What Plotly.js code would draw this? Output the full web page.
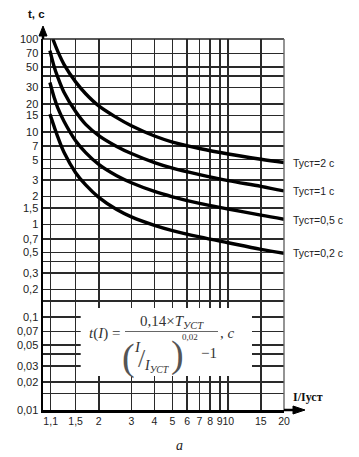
<!DOCTYPE html>
<html>
<head>
<meta charset="utf-8">
<script src="https://cdn.plot.ly/plotly-3.0.1.min.js"></script>
<style>
html,body{margin:0;padding:0;background:#fff;}
#chart{width:359px;height:457px;}
</style>
</head>
<body>
<div id="chart"></div>
<script>
// Curve data (I/Iуст, t in seconds)
const xT2  = [1.13, 1.2, 1.3, 1.5, 1.7, 2, 2.5, 3, 4, 5, 7, 10, 15, 20];
const yT2  = [100, 74, 53, 34.5, 25.7, 19, 14.2, 11.6, 9.0, 7.75, 6.6, 5.75, 5.05, 4.65];
const xT1  = [1.09, 1.15, 1.2, 1.3, 1.5, 1.7, 2, 2.5, 3, 4, 5, 7, 10, 15, 20];
const yT1  = [75, 50, 39, 26.5, 16.5, 12, 9.1, 6.95, 5.82, 4.65, 4.05, 3.45, 2.97, 2.58, 2.3];
const xT05 = [1.09, 1.15, 1.2, 1.3, 1.5, 1.7, 2, 2.5, 3, 4, 5, 7, 10, 15, 20];
const yT05 = [34, 23.3, 18.2, 12.9, 8.0, 5.96, 4.44, 3.35, 2.82, 2.27, 1.99, 1.69, 1.47, 1.26, 1.14];
const xT02 = [1.09, 1.15, 1.2, 1.3, 1.5, 1.7, 2, 2.5, 3, 4, 5, 7, 10, 15, 20];
const yT02 = [15.5, 11.3, 8.86, 5.97, 3.62, 2.67, 1.96, 1.45, 1.21, 0.98, 0.86, 0.735, 0.635, 0.54, 0.49];

const curveNames = ["Туст=2 с", "Туст=1 с", "Туст=0,5 с", "Туст=0,2 с"];

// Tick / grid positions and labels
const xTickVals = [1.1, 1.5, 2, 3, 4, 5, 6, 7, 8, 9, 10, 15, 20];
const xTickText = ["1,1", "1,5", "2", "3", "4", "5", "6", "7", "8", "9", "10", "15", "20"];
const yTickVals = [100, 70, 50, 40, 30, 20, 15, 10, 7, 5, 4, 3, 2, 1.5, 1, 0.7, 0.5, 0.4, 0.3, 0.2, 0.15, 0.1, 0.07, 0.05, 0.04, 0.03, 0.02, 0.015, 0.01];
const yTickText = ["100", "70", "50", "", "30", "20", "15", "10", "7", "5", "", "3", "2", "1,5", "1", "0,7", "0,5", "", "0,3", "0,2", "", "0,1", "0,07", "0,05", "", "0,03", "0,02", "", "0,01"];

// Plot area geometry (pixels)
const W = 359, H = 457, L = 43, R = 75, T = 39, B = 47;
const PW = W - L - R, PH = H - T - B;
const px = v => (v - L) / PW;           // pixel x -> paper x
const py = v => (H - B - v) / PH;       // pixel y -> paper y

const lineStyle = {color: '#000', width: 3.4, shape: 'spline', smoothing: 1};
const xs = [xT2, xT1, xT05, xT02], ys = [yT2, yT1, yT05, yT02];
const traces = xs.map((x, i) => ({
  x: x, y: ys[i], type: 'scatter', mode: 'lines', name: curveNames[i],
  line: lineStyle, hoverinfo: 'skip', cliponaxis: true
}));

const serif = 'Liberation Serif, Times New Roman, serif';
const sans = 'Liberation Sans, Arial, sans-serif';
const fc = '#333';

const labelY = [163, 191, 220, 253];
const annotations = curveNames.map((n, i) => ({
  text: n, xref: 'paper', yref: 'paper', x: px(291), y: py(labelY[i]),
  xanchor: 'left', yanchor: 'middle', showarrow: false,
  font: {family: sans, size: 10.5, color: '#222'}
}));

annotations.push(
  {text: '<b>t, с</b>', xref: 'paper', yref: 'paper', x: px(36), y: py(14), xanchor: 'center', yanchor: 'middle', showarrow: false, font: {family: sans, size: 11.5, color: '#111'}},
  {text: '<b>I/Iуст</b>', xref: 'paper', yref: 'paper', x: px(291), y: py(397), xanchor: 'left', yanchor: 'middle', showarrow: false, font: {family: serif, size: 12, color: '#111'}},
  {text: '<i>а</i>', xref: 'paper', yref: 'paper', x: px(179), y: py(445), xanchor: 'center', yanchor: 'middle', showarrow: false, font: {family: serif, size: 14, color: '#222'}},
  // formula
  {text: '<i>t</i>(<i>I</i>) =', xref: 'paper', yref: 'paper', x: px(104), y: py(333), xanchor: 'center', yanchor: 'middle', showarrow: false, font: {family: serif, size: 15, color: fc}},
  {text: '0,14×<i>T</i><sub><i>УСТ</i></sub>', xref: 'paper', yref: 'paper', x: px(172), y: py(322), xanchor: 'center', yanchor: 'middle', showarrow: false, font: {family: serif, size: 15, color: fc}},
  {text: ', <i>c</i>', xref: 'paper', yref: 'paper', x: px(227), y: py(333), xanchor: 'center', yanchor: 'middle', showarrow: false, font: {family: serif, size: 15, color: fc}},
  {text: '(', xref: 'paper', yref: 'paper', x: px(128), y: py(357), xanchor: 'center', yanchor: 'middle', showarrow: false, font: {family: serif, size: 38, color: '#555'}},
  {text: ')', xref: 'paper', yref: 'paper', x: px(177), y: py(354), xanchor: 'center', yanchor: 'middle', showarrow: false, font: {family: serif, size: 38, color: '#555'}},
  {text: '<i>I</i>', xref: 'paper', yref: 'paper', x: px(137), y: py(347), xanchor: 'center', yanchor: 'middle', showarrow: false, font: {family: serif, size: 15, color: fc}},
  {text: '/', xref: 'paper', yref: 'paper', x: px(142), y: py(358), xanchor: 'center', yanchor: 'middle', showarrow: false, font: {family: serif, size: 26, color: '#555'}},
  {text: '<i>I</i><sub><i>УСТ</i></sub>', xref: 'paper', yref: 'paper', x: px(157), y: py(366), xanchor: 'center', yanchor: 'middle', showarrow: false, font: {family: serif, size: 14, color: fc}},
  {text: '0,02', xref: 'paper', yref: 'paper', x: px(190), y: py(337), xanchor: 'center', yanchor: 'middle', showarrow: false, font: {family: serif, size: 9, color: fc}},
  {text: '−1', xref: 'paper', yref: 'paper', x: px(209), y: py(353), xanchor: 'center', yanchor: 'middle', showarrow: false, font: {family: serif, size: 15, color: fc}}
);

const shapes = [
  // white box behind the formula
  {type: 'rect', xref: 'paper', yref: 'paper', x0: px(80.7), x1: px(252), y0: py(376), y1: py(308), fillcolor: '#fff', line: {width: 0}, layer: 'above'},
  // fraction bar
  {type: 'line', xref: 'paper', yref: 'paper', x0: px(125), x1: px(218), y0: py(331.5), y1: py(331.5), line: {color: '#666', width: 1}, layer: 'above'},
  // lighter grid lines
  {type: 'line', xref: 'paper', yref: 'y', x0: 0, x1: 1, y0: 40, y1: 40, line: {color: '#aaa', width: 1.6}, layer: 'between'},
  {type: 'line', xref: 'x', yref: 'paper', x0: 10, x1: 10, y0: 0, y1: 1, line: {color: '#999', width: 1.6}, layer: 'between'},
  // top and right border
  {type: 'line', xref: 'paper', yref: 'paper', x0: 0, x1: 1, y0: 1, y1: 1, line: {color: '#222', width: 1.6}},
  {type: 'line', xref: 'paper', yref: 'paper', x0: 1, x1: 1, y0: 0, y1: 1, line: {color: '#666', width: 1.4}},
  // axis arrows
  {type: 'line', xref: 'paper', yref: 'paper', x0: 0, x1: 0, y0: 1, y1: py(34), line: {color: '#000', width: 2.5}},
  {type: 'path', xref: 'paper', yref: 'paper', path: `M ${px(39)} ${py(36)} L ${px(43)} ${py(26)} L ${px(47)} ${py(36)} Z`, fillcolor: '#000', line: {color: '#000', width: 1}},
  {type: 'line', xref: 'paper', yref: 'paper', x0: 1, x1: px(295), y0: 0, y1: 0, line: {color: '#000', width: 2.5}},
  {type: 'path', xref: 'paper', yref: 'paper', path: `M ${px(293)} ${py(406)} L ${px(305)} ${py(410)} L ${px(293)} ${py(414)} Z`, fillcolor: '#000', line: {color: '#000', width: 1}}
];

const layout = {
  width: W, height: H,
  margin: {l: L, r: R, t: T, b: B, pad: 0},
  paper_bgcolor: '#fff', plot_bgcolor: '#fff',
  showlegend: false,
  font: {family: sans, size: 11, color: '#222'},
  xaxis: {
    type: 'log', range: [0, Math.log10(20)], tickmode: 'array',
    tickvals: xTickVals, ticktext: xTickText, ticks: '', tickangle: 0,
    showgrid: true, gridcolor: '#2a2a2a', gridwidth: 1.6,
    showline: true, linecolor: '#000', linewidth: 2.5,
    zeroline: false, tickfont: {family: sans, size: 10.5, color: '#222'}, fixedrange: true
  },
  yaxis: {
    type: 'log', range: [-2, 2], tickmode: 'array',
    tickvals: yTickVals, ticktext: yTickText, ticks: '',
    showgrid: true, gridcolor: '#2a2a2a', gridwidth: 1.6,
    showline: true, linecolor: '#000', linewidth: 2.5,
    zeroline: false, tickfont: {family: sans, size: 11, color: '#222'}, fixedrange: true
  },
  annotations: annotations,
  shapes: shapes
};

Plotly.newPlot('chart', traces, layout, {displayModeBar: false, staticPlot: true});
</script>
</body>
</html>
